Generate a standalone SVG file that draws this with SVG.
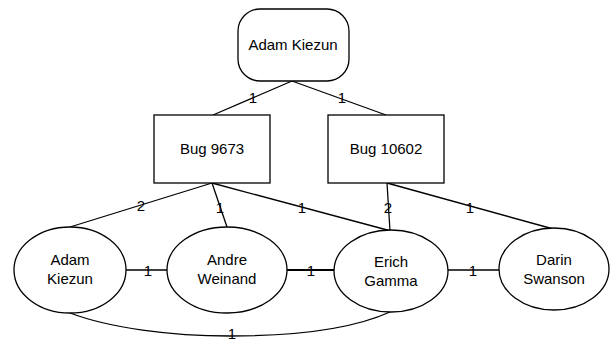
<svg xmlns="http://www.w3.org/2000/svg" width="611" height="339" viewBox="0 0 611 339">
<style>
.shape{fill:#fff;stroke:#000;stroke-width:1.3}
.edge{fill:none;stroke:#000;stroke-width:1.3}
text{font-family:"Liberation Sans",Arial,sans-serif;font-size:15px;fill:#000;text-anchor:middle}
</style>
<rect width="611" height="339" fill="#fff"/>
<g id="connectors">
<line class="edge" x1="292" y1="81" x2="213" y2="115"/>
<line class="edge" x1="292" y1="81" x2="386" y2="115"/>
<line class="edge" x1="212" y1="183" x2="70" y2="227"/>
<line class="edge" x1="212" y1="183" x2="227" y2="227"/>
<line class="edge" x1="212" y1="183" x2="391" y2="231"/>
<line class="edge" x1="387" y1="183" x2="390" y2="231"/>
<line class="edge" x1="387" y1="183" x2="557" y2="230"/>
<line class="edge" x1="126" y1="270" x2="167" y2="270"/>
<line class="edge" x1="287" y1="270" x2="334" y2="270" style="stroke-width:2"/>
<line class="edge" x1="448" y1="270" x2="499" y2="270"/>
<path class="edge" d="M70,313 C110,328 170,336 230,336 C290,336 350,330 390,312"/>
<text x="253" y="103">1</text>
<text x="342" y="103">1</text>
<text x="141" y="211">2</text>
<text x="220" y="213">1</text>
<text x="302" y="213">1</text>
<text x="388" y="213">2</text>
<text x="470" y="213">1</text>
<text x="148" y="276">1</text>
<text x="311" y="276">1</text>
<text x="473" y="276">1</text>
<text x="232" y="339">1</text>
</g>
<g id="top-adam">
<rect class="shape" x="238" y="9" width="111" height="72" rx="22" ry="22"/>
<text x="293" y="50">Adam Kiezun</text>
</g>
<g id="bug9673">
<rect class="shape" x="154" y="115" width="116" height="68"/>
<text x="212" y="154">Bug 9673</text>
</g>
<g id="bug10602">
<rect class="shape" x="328" y="115" width="116" height="68"/>
<text x="386" y="154">Bug 10602</text>
</g>
<g id="adam">
<ellipse class="shape" cx="70" cy="270" rx="56" ry="43"/>
<text x="70" y="265">Adam</text>
<text x="70" y="284">Kiezun</text>
</g>
<g id="andre">
<ellipse class="shape" cx="227" cy="270" rx="60" ry="43"/>
<text x="227" y="265">Andre</text>
<text x="227" y="284">Weinand</text>
</g>
<g id="erich">
<ellipse class="shape" cx="391" cy="271" rx="57" ry="41"/>
<text x="391" y="267">Erich</text>
<text x="391" y="286">Gamma</text>
</g>
<g id="darin">
<ellipse class="shape" cx="554" cy="269" rx="55" ry="41"/>
<text x="554" y="265">Darin</text>
<text x="554" y="284">Swanson</text>
</g>
</svg>
